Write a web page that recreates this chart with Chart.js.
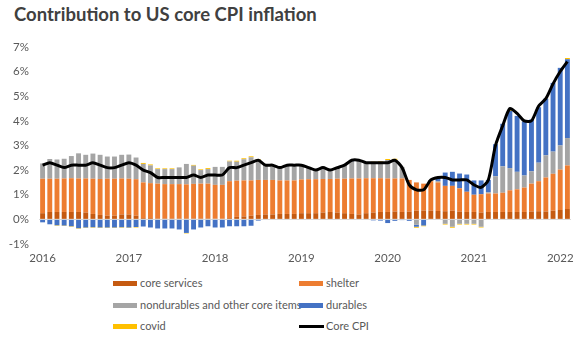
<!DOCTYPE html>
<html>
<head>
<meta charset="utf-8">
<script src="https://cdn.jsdelivr.net/npm/chart.js@4.4.1/dist/chart.umd.min.js"></script>
<style>
  html, body { margin: 0; padding: 0; background: #fff; }
  #wrap { position: relative; width: 581px; height: 347px; overflow: hidden; font-family: Lato, 'Open Sans', sans-serif; }
  #title { position: absolute; left: 14px; top: 3px; font-size: 18.5px; font-weight: 700; color: #404040; white-space: nowrap; }
  #chartBox { position: absolute; left: 0; top: 30px; width: 581px; height: 238px; }
  .item { position: absolute; font-size: 11px; color: #595959; line-height: 14px; white-space: nowrap; }
  .item .sw { position: absolute; left: -27px; top: 5px; width: 24px; height: 5px; }
  .item .ln { position: absolute; left: -27px; top: 6px; width: 25px; height: 2.5px; }
</style>
</head>
<body>
<div id="wrap">
  <div id="title">Contribution to US core CPI inflation</div>
  <div id="chartBox"><canvas id="cpiChart" width="581" height="238"></canvas></div>
  <div id="legend"></div>
</div>
<script>
const yearLabels = ['2016', '2017', '2018', '2019', '2020', '2021', '2022'];
const monthCount = 74; // Jan 2016 .. Feb 2022

// contributions, percentage points
const coreServices = [
  0.25, 0.30, 0.30, 0.30, 0.30, 0.30, 0.28, 0.22, 0.18, 0.15, 0.15, 0.20,
  0.20, 0.15, 0.05, 0.05, 0.04, 0.04, 0.04, 0.04, 0.04, 0.04, 0.04, 0.04,
  0.03, 0.03, 0.05, 0.10, 0.12, 0.15, 0.18, 0.20, 0.20, 0.22, 0.22, 0.22,
  0.25, 0.25, 0.25, 0.28, 0.30, 0.28, 0.25, 0.22, 0.20, 0.25, 0.28, 0.30,
  0.30, 0.32, 0.30, 0.32, 0.35, 0.36, 0.36, 0.34, 0.33, 0.35, 0.32, 0.30,
  0.30, 0.28, 0.30, 0.30, 0.30, 0.30, 0.30, 0.30, 0.32, 0.33, 0.32, 0.35,
  0.38, 0.42
];
const shelter = [
  1.40, 1.35, 1.35, 1.36, 1.37, 1.36, 1.38, 1.43, 1.46, 1.50, 1.50, 1.46,
  1.45, 1.48, 1.45, 1.42, 1.41, 1.39, 1.39, 1.39, 1.38, 1.40, 1.41, 1.41,
  1.37, 1.37, 1.50, 1.47, 1.46, 1.43, 1.42, 1.40, 1.40, 1.36, 1.36, 1.36,
  1.37, 1.38, 1.38, 1.36, 1.34, 1.37, 1.40, 1.44, 1.46, 1.42, 1.39, 1.37,
  1.36, 1.34, 1.36, 1.28, 1.15, 1.09, 1.19, 1.16, 1.03, 1.01, 0.94, 0.82,
  0.70, 0.74, 0.75, 0.75, 0.78, 0.88, 0.92, 0.99, 1.13, 1.22, 1.38, 1.50,
  1.64, 1.77
];
const nondurables = [
  0.62, 0.80, 0.78, 0.80, 0.90, 1.02, 0.96, 1.02, 0.98, 0.90, 0.90, 0.96,
  0.98, 0.88, 0.75, 0.72, 0.59, 0.61, 0.61, 0.68, 0.83, 0.74, 0.55, 0.59,
  0.73, 0.73, 0.80, 0.77, 0.86, 0.94, 0.82, 0.62, 0.60, 0.52, 0.62, 0.62,
  0.58, 0.47, 0.37, 0.46, 0.36, 0.45, 0.55, 0.69, 0.74, 0.63, 0.64, 0.64,
  0.75, 0.75, 0.47, 0.00, -0.22, 0.00, 0.05, 0.05, -0.18, -0.30, -0.18, -0.18,
  -0.18, -0.30, 0.05, 0.70, 1.07, 0.90, 0.71, 0.49, 0.50, 0.75, 0.90, 0.90,
  0.98, 1.11
];
const durables = [
  -0.12, -0.20, -0.24, -0.25, -0.28, -0.36, -0.33, -0.32, -0.33, -0.33, -0.33, -0.32,
  -0.33, -0.31, -0.29, -0.33, -0.37, -0.37, -0.37, -0.41, -0.55, -0.41, -0.33, -0.28,
  -0.33, -0.33, -0.28, -0.28, -0.28, -0.26, -0.05, -0.02, 0.00, 0.00, 0.00, 0.00,
  0.00, 0.00, 0.00, 0.00, 0.00, 0.00, 0.00, 0.05, 0.00, 0.00, -0.04, -0.05,
  -0.15, -0.06, -0.03, -0.06, -0.08, -0.25, 0.00, 0.15, 0.54, 0.57, 0.60, 0.70,
  0.58, 0.56, 0.50, 1.30, 1.73, 2.32, 2.27, 2.19, 2.10, 2.25, 2.30, 2.79,
  3.15, 3.20
];
const covid = [
  0, 0, -0.02, -0.02, -0.02, -0.02, -0.02, -0.02, -0.02, -0.02, -0.02, -0.02,
  -0.02, -0.02, 0.04, 0.04, 0.03, 0.03, 0.03, 0, -0.02, 0.03, 0.03, 0.04,
  0, 0, 0.03, 0.04, 0.04, 0.04, 0.03, 0, 0, 0, 0, 0,
  0, 0, 0, 0, 0, 0, 0, 0, 0, 0, 0.03, 0.04,
  0.04, 0.05, 0, 0, -0.04, -0.03, 0, 0, -0.03, -0.04, -0.03, -0.03,
  -0.03, -0.03, 0, 0, 0, 0.03, 0, 0, 0, 0, 0, 0,
  0, 0.05
];
const coreCpi = [
  2.2, 2.3, 2.2, 2.1, 2.2, 2.2, 2.2, 2.3, 2.2, 2.1, 2.1, 2.2,
  2.3, 2.2, 2.0, 1.9, 1.7, 1.7, 1.7, 1.7, 1.7, 1.8, 1.7, 1.8,
  1.8, 1.8, 2.1, 2.1, 2.2, 2.3, 2.4, 2.2, 2.2, 2.1, 2.2, 2.2,
  2.2, 2.1, 2.0, 2.1, 2.0, 2.1, 2.2, 2.4, 2.4, 2.3, 2.3, 2.3,
  2.3, 2.4, 2.1, 1.4, 1.2, 1.2, 1.6, 1.7, 1.7, 1.6, 1.6, 1.6,
  1.4, 1.3, 1.6, 3.0, 3.8, 4.5, 4.3, 4.0, 4.0, 4.6, 4.9, 5.5,
  6.0, 6.4
];

const months = [];
for (let i = 0; i < monthCount; i++) {
  months.push(yearLabels[Math.floor(i / 12)] + '-' + String(i % 12 + 1).padStart(2, '0'));
}

const textColor = '#595959';
const tickFont = { family: 'Lato', size: 11.5 };

function barSet(label, data, color) {
  return {
    type: 'bar', label: label, data: data, backgroundColor: color,
    stack: 'parts', order: 1, barPercentage: 0.68, categoryPercentage: 1.0
  };
}

const ctx = document.getElementById('cpiChart').getContext('2d');
const chart = new Chart(ctx, {
  data: {
    labels: months,
    datasets: [
      barSet('core services', coreServices, '#C55A11'),
      barSet('shelter', shelter, '#ED7D31'),
      barSet('nondurables and other core items', nondurables, '#A5A5A5'),
      barSet('durables', durables, '#4472C4'),
      barSet('covid', covid, '#FFC000'),
      {
        type: 'line', label: 'Core CPI', data: coreCpi, order: 0,
        borderColor: '#000000', borderWidth: 3, pointRadius: 0,
        tension: 0.25, borderJoinStyle: 'round', fill: false
      }
    ]
  },
  options: {
    responsive: false,
    animation: false,
    layout: { padding: { top: 13, right: 10, left: 0, bottom: 0 } },
    plugins: { legend: { display: false }, tooltip: { enabled: false } },
    scales: {
      x: {
        stacked: true,
        offset: true,
        grid: { display: false, drawTicks: false },
        border: { display: false },
        afterFit: s => { s.height = 24; },
        ticks: {
          autoSkip: false, maxRotation: 0, padding: 7,
          color: textColor, font: tickFont,
          callback: (v, i) => (i % 12 === 0 ? yearLabels[i / 12] : '')
        }
      },
      y: {
        stacked: true,
        min: -1,
        max: 7,
        afterFit: s => { s.width = 39; },
        border: { display: false },
        grid: {
          drawTicks: false,
          color: c => (c.tick && c.tick.value === 0 ? '#D9D9D9' : 'rgba(0,0,0,0)')
        },
        ticks: {
          stepSize: 1, padding: 10,
          color: textColor, font: tickFont,
          callback: v => v + '%'
        }
      }
    }
  }
});

// Legend, two columns like the original
const legendSpots = [[140, 276], [326, 276], [140, 298], [326, 298], [140, 319], [326, 319]];
const legendBox = document.getElementById('legend');
chart.data.datasets.forEach((ds, i) => {
  const item = document.createElement('div');
  item.className = 'item';
  item.style.left = legendSpots[i][0] + 'px';
  item.style.top = legendSpots[i][1] + 'px';
  const mark = document.createElement('span');
  if (ds.type === 'line') {
    mark.className = 'ln';
    mark.style.background = ds.borderColor;
  } else {
    mark.className = 'sw';
    mark.style.background = ds.backgroundColor;
  }
  item.appendChild(mark);
  item.appendChild(document.createTextNode(ds.label));
  legendBox.appendChild(item);
});
</script>
</body>
</html>
